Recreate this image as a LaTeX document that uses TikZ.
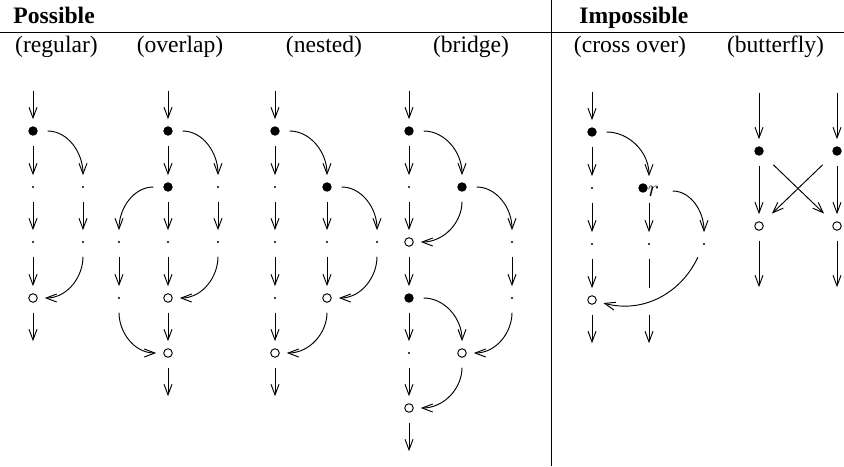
\documentclass[tikz,border=0pt]{standalone}
\usepackage{fontspec}
\setmainfont{Liberation Serif}
\usetikzlibrary{arrows.meta}

\begin{document}
\begin{tikzpicture}[x=0.4237pt, y=-0.4237pt]
    % Define styles for nodes and edges
    \tikzset{
        blackdot/.style={circle, fill=black, inner sep=0pt, minimum size=4pt, outer sep=3pt},
        whitedot/.style={circle, draw=black, fill=white, inner sep=0pt, minimum size=3.6pt, outer sep=3.2pt},
        smalldot/.style={circle, fill=black, inner sep=0pt, minimum size=1pt, outer sep=4.5pt},
        stub/.style={inner sep=0pt, minimum size=0pt, outer sep=5pt},
        flow/.style={draw=black, shorten <=1.2pt, -{Straight Barb[length=4.5pt,width=3.4pt]}},
        plain/.style={draw=black, shorten <=1.2pt},
        title/.style={font=\bfseries, anchor=base west, inner sep=0pt},
        caption/.style={anchor=base, inner sep=0pt}
    }
    \useasboundingbox (0,0) rectangle (844,466);

    % ==========================================
    % TABLE FRAME
    % ==========================================
    \draw (0,32) -- (844,32);
    \draw (551,0) -- (551,466);
    \node[title] (possible) at (13,23) {Possible};
    \node[title] (impossible) at (579,23) {Impossible};
    \node[caption] (cap-rg) at (56.5,52) {(regular)};
    \node[caption] (cap-ov) at (180,52) {(overlap)};
    \node[caption] (cap-ns) at (324,52) {(nested)};
    \node[caption] (cap-br) at (471,52) {(bridge)};
    \node[caption] (cap-co) at (630,52) {(cross over)};
    \node[caption] (cap-bf) at (775.5,52) {(butterfly)};

    % ==========================================
    % REGULAR
    % ==========================================
    \node[stub]     (rg-a0) at (33,76) {};
    \node[blackdot] (rg-a1) at (33,131) {};
    \node[smalldot] (rg-a2) at (33,187) {};
    \node[smalldot] (rg-a3) at (33,242) {};
    \node[whitedot] (rg-a4) at (33,298) {};
    \node[stub]     (rg-a5) at (33,353) {};
    \node[smalldot] (rg-b2) at (83,187) {};
    \node[smalldot] (rg-b3) at (83,242) {};
    \foreach \a/\b in {rg-a0/rg-a1, rg-a1/rg-a2, rg-a2/rg-a3, rg-a3/rg-a4, rg-a4/rg-a5, rg-b2/rg-b3} {
        \draw[flow] (\a) -- (\b);
    }
    \draw[flow] (rg-a1) to[out=0, in=90] (rg-b2);
    \draw[flow] (rg-b3) to[out=-90, in=0] (rg-a4);

    % ==========================================
    % OVERLAP
    % ==========================================
    \node[stub]     (ov-m0) at (168,76) {};
    \node[blackdot] (ov-m1) at (168,131) {};
    \node[blackdot] (ov-m2) at (168,187) {};
    \node[smalldot] (ov-m3) at (168,242) {};
    \node[whitedot] (ov-m4) at (168,298) {};
    \node[whitedot] (ov-m5) at (168,353) {};
    \node[stub]     (ov-m6) at (168,408) {};
    \node[smalldot] (ov-r2) at (218,187) {};
    \node[smalldot] (ov-r3) at (218,242) {};
    \node[smalldot] (ov-l3) at (119,242) {};
    \node[smalldot] (ov-l4) at (119,298) {};
    \foreach \a/\b in {ov-m0/ov-m1, ov-m1/ov-m2, ov-m2/ov-m3, ov-m3/ov-m4, ov-m4/ov-m5, ov-m5/ov-m6, ov-r2/ov-r3, ov-l3/ov-l4} {
        \draw[flow] (\a) -- (\b);
    }
    \draw[flow] (ov-m1) to[out=0, in=90] (ov-r2);
    \draw[flow] (ov-r3) to[out=-90, in=0] (ov-m4);
    \draw[flow] (ov-m2) to[out=180, in=90] (ov-l3);
    \draw[flow] (ov-l4) to[out=-90, in=180] (ov-m5);

    % ==========================================
    % NESTED
    % ==========================================
    \node[stub]     (ns-a0) at (275,76) {};
    \node[blackdot] (ns-a1) at (275,131) {};
    \node[smalldot] (ns-a2) at (275,187) {};
    \node[smalldot] (ns-a3) at (275,242) {};
    \node[smalldot] (ns-a4) at (275,298) {};
    \node[whitedot] (ns-a5) at (275,353) {};
    \node[stub]     (ns-a6) at (275,408) {};
    \node[blackdot] (ns-b2) at (327,187) {};
    \node[smalldot] (ns-b3) at (327,242) {};
    \node[whitedot] (ns-b4) at (327,298) {};
    \node[smalldot] (ns-c3) at (377,242) {};
    \foreach \a/\b in {ns-a0/ns-a1, ns-a1/ns-a2, ns-a2/ns-a3, ns-a3/ns-a4, ns-a4/ns-a5, ns-a5/ns-a6, ns-b2/ns-b3, ns-b3/ns-b4} {
        \draw[flow] (\a) -- (\b);
    }
    \draw[flow] (ns-a1) to[out=0, in=90] (ns-b2);
    \draw[flow] (ns-b2) to[out=0, in=90] (ns-c3);
    \draw[flow] (ns-c3) to[out=-90, in=0] (ns-b4);
    \draw[flow] (ns-b4) to[out=-90, in=0] (ns-a5);

    % ==========================================
    % BRIDGE
    % ==========================================
    \node[stub]     (br-a0) at (409,76) {};
    \node[blackdot] (br-a1) at (409,131) {};
    \node[smalldot] (br-a2) at (409,187) {};
    \node[whitedot] (br-a3) at (409,242) {};
    \node[blackdot] (br-a4) at (409,298) {};
    \node[smalldot] (br-a5) at (409,353) {};
    \node[whitedot] (br-a6) at (409,408) {};
    \node[stub]     (br-a7) at (409,463) {};
    \node[blackdot] (br-b2) at (462,187) {};
    \node[whitedot] (br-b5) at (462,353) {};
    \node[smalldot] (br-c3) at (512,242) {};
    \node[smalldot] (br-c4) at (512,298) {};
    \foreach \a/\b in {br-a0/br-a1, br-a1/br-a2, br-a2/br-a3, br-a3/br-a4, br-a4/br-a5, br-a5/br-a6, br-a6/br-a7, br-c3/br-c4} {
        \draw[flow] (\a) -- (\b);
    }
    \draw[flow] (br-a1) to[out=0, in=90] (br-b2);
    \draw[flow] (br-b2) to[out=-90, in=0] (br-a3);
    \draw[flow] (br-b2) to[out=0, in=90] (br-c3);
    \draw[flow] (br-a4) to[out=0, in=90] (br-b5);
    \draw[flow] (br-c4) to[out=-90, in=0] (br-b5);
    \draw[flow] (br-b5) to[out=-90, in=0] (br-a6);

    % ==========================================
    % CROSS OVER
    % ==========================================
    \node[stub]     (co-a0) at (592,77) {};
    \node[blackdot] (co-a1) at (592,132) {};
    \node[smalldot] (co-a2) at (592,188) {};
    \node[smalldot] (co-a3) at (592,244) {};
    \node[whitedot] (co-a4) at (592,300) {};
    \node[stub]     (co-a5) at (592,355) {};
    \node[blackdot] (co-b2) at (643,188) {};
    \node[inner sep=0pt, outer sep=4.5pt] (co-r) at (653.5,191) {$r$};
    \node[smalldot] (co-b3) at (649,244) {};
    \node[stub]     (co-b4) at (649,300) {};
    \node[stub]     (co-b5) at (649,355) {};
    \node[smalldot] (co-c3) at (704,244) {};
    \foreach \a/\b in {co-a0/co-a1, co-a1/co-a2, co-a2/co-a3, co-a3/co-a4, co-a4/co-a5, co-b4/co-b5} {
        \draw[flow] (\a) -- (\b);
    }
    \draw[flow] (co-b2.south -| co-b3) -- (co-b3);
    \draw[plain] (co-b3) -- (co-b4);
    \draw[flow] (co-a1) to[out=0, in=90] (co-b2.north -| co-b3);
    \draw[flow] (co-r.east) to[out=0, in=90] (co-c3);
    \draw[flow] (co-c3) to[out=-115, in=-15] (co-a4);

    % ==========================================
    % BUTTERFLY
    % ==========================================
    \foreach \n/\x in {a/759, b/837} {
        \node[stub]     (bf-\n0) at (\x,78) {};
        \node[blackdot] (bf-\n1) at (\x,151) {};
        \node[whitedot] (bf-\n2) at (\x,226) {};
        \node[stub]     (bf-\n3) at (\x,299) {};
        \draw[flow] (bf-\n0) -- (bf-\n1);
        \draw[flow] (bf-\n1) -- (bf-\n2);
        \draw[flow] (bf-\n2) -- (bf-\n3);
    }
    \draw[flow, shorten <=3.4pt, shorten >=2.6pt] (bf-a1) -- (bf-b2);
    \draw[flow, shorten <=3.4pt, shorten >=2.6pt] (bf-b1) -- (bf-a2);

\end{tikzpicture}
\end{document}
